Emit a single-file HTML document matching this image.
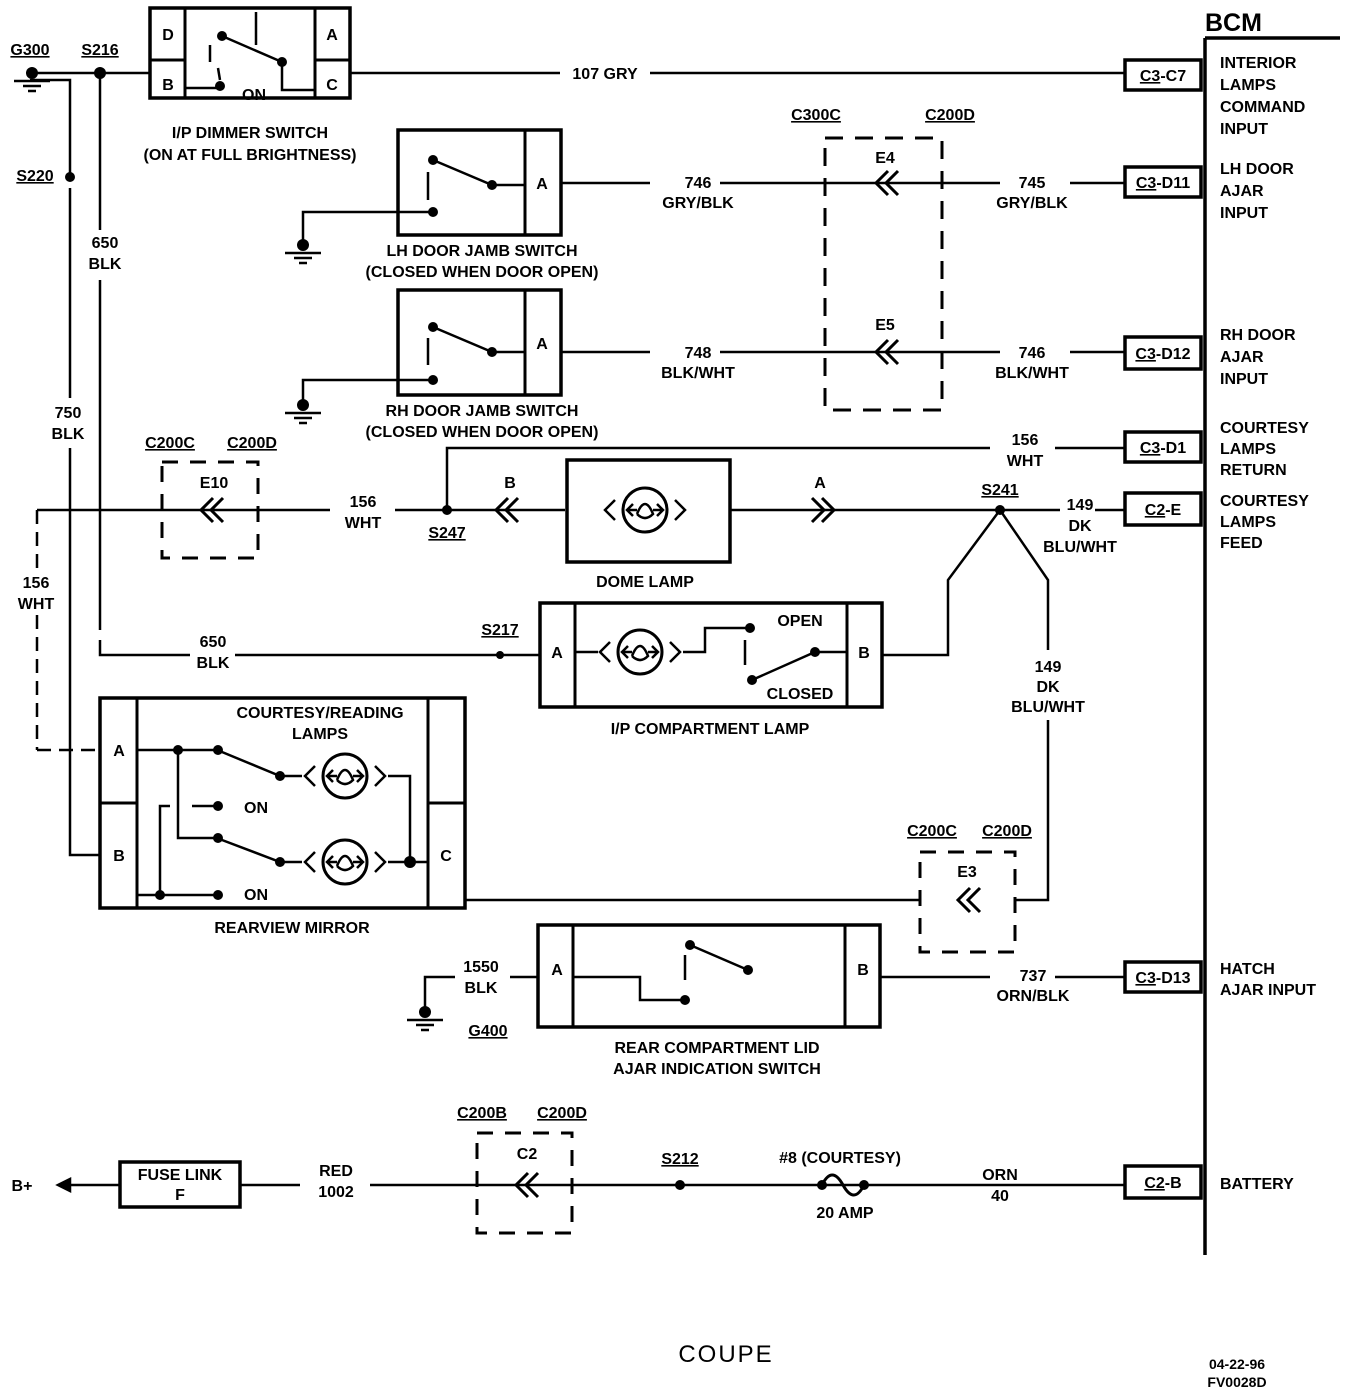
<!DOCTYPE html>
<html><head><meta charset="utf-8"><style>
html,body{margin:0;padding:0;background:#fff}
svg{display:block}
text{font-family:"Liberation Sans",sans-serif;font-weight:bold;font-size:16px;fill:#000}
.m{text-anchor:middle}
.u{text-decoration:underline}
</style></head><body>
<svg width="1360" height="1396" viewBox="0 0 1360 1396" xmlns="http://www.w3.org/2000/svg">
<defs>
<g id="lamp"><circle r="22" fill="none" stroke="#000" stroke-width="3"/>
<path d="M-30 -10 L-40 0 L-30 10 M30 -10 L40 0 L30 10 M-12 -6 L-18 0 L-12 6 M12 -6 L18 0 L12 6 M-18 0 H-8 M18 0 H8 M-8 4 Q0 -16 8 4 Q0 12 -8 4" fill="none" stroke="#000" stroke-width="2.5"/></g>
<g id="chl"><path d="M8 -12 L-4 0 L8 12 M18 -12 L6 0 L18 12" fill="none" stroke="#000" stroke-width="3"/></g>
<g id="chr"><path d="M-8 -12 L4 0 L-8 12 M-18 -12 L-6 0 L-18 12" fill="none" stroke="#000" stroke-width="3"/></g>
<g id="gnd"><circle r="6" fill="#000"/><path d="M-18 8 H18 M-9 13 H9 M-4 18 H4" stroke="#000" stroke-width="2.5"/></g>
</defs>
<g fill="none" stroke="#000" stroke-width="2.5">
<path d="M1205 38 H1340 M1205 38 V1255" stroke-width="3.5"/>
<rect x="1125" y="60" width="76" height="30" stroke-width="3.5"/>
<rect x="1125" y="167" width="76" height="30" stroke-width="3.5"/>
<rect x="1125" y="337" width="76" height="32" stroke-width="3.5"/>
<rect x="1125" y="432" width="76" height="30" stroke-width="3.5"/>
<rect x="1125" y="493" width="76" height="32" stroke-width="3.5"/>
<rect x="1125" y="962" width="76" height="30" stroke-width="3.5"/>
<rect x="1125" y="1166" width="76" height="32" stroke-width="3.5"/>
<path d="M30 73 H150 M350 73 H560 M650 73 H1125"/>
<path d="M30 80 H70 V180 M70 188 V398 M70 448 V855 H100"/>
<path d="M100 73 V230 M100 280 V630 M100 640 V655 H190 M235 655 H540"/>
<rect x="150" y="8" width="200" height="90" stroke-width="3.5"/>
<path d="M185 8 V98 M315 8 V98 M150 60 H185 M315 60 H350" stroke-width="3"/>
<path d="M222 36 L282 62 M282 62 V90 H315 M185 88 H218 M210 45 V62 M218 68 L220 80 M256 12 V45"/>
<rect x="398" y="130" width="163" height="105" stroke-width="3.5"/>
<path d="M525 130 V235" stroke-width="3"/>
<path d="M433 160 L492 185 H525 M428 172 V200 M433 212 H398 M398 212 H303 V240"/>
<path d="M561 183 H650 M720 183 H1000 M1070 183 H1125"/>
<rect x="398" y="290" width="163" height="105" stroke-width="3.5"/>
<path d="M525 290 V395" stroke-width="3"/>
<path d="M433 327 L492 352 H525 M428 338 V365 M433 380 H303 V400"/>
<path d="M561 352 H650 M720 352 H1000 M1070 352 H1125"/>
<rect x="825" y="138" width="117" height="272" stroke-dasharray="18 12" stroke-width="3"/>
<path d="M37 750 H100 M37 510 V570 M37 615 V750" stroke-dasharray="14 8"/>
<path d="M37 510 H330 M395 510 H565 M730 510 H1060 M1095 510 H1125"/>
<path d="M447 510 V448 H990 M1055 448 H1125"/>
<rect x="162" y="462" width="96" height="96" stroke-dasharray="16 12" stroke-width="3"/>
<rect x="567" y="460" width="163" height="102" stroke-width="3.5"/>
<path d="M1000 510 L948 580 V655 H882 M1000 510 L1048 580 V650 M1048 720 V900 H1015 M920 900 H465"/>
<rect x="920" y="852" width="95" height="100" stroke-dasharray="16 12" stroke-width="3"/>
<rect x="540" y="603" width="342" height="104" stroke-width="3.5"/>
<path d="M575 603 V707 M847 603 V707" stroke-width="3"/>
<path d="M575 652 H598 M683 652 H705 V628 H750 M745 640 V665 M752 680 L815 652 H847"/>
<rect x="100" y="698" width="365" height="210" stroke-width="3.5"/>
<path d="M137 698 V908 M428 698 V908 M100 803 H137 M428 803 H465" stroke-width="3"/>
<path d="M137 750 H218 M178 750 V838 H218 M222 752 L280 776 H302 M388 776 H410 V862 M222 840 L280 862 H302 M388 862 H428 M160 895 V806 H170 M192 806 H218 M137 895 H218"/>
<rect x="538" y="925" width="342" height="102" stroke-width="3.5"/>
<path d="M573 925 V1027 M845 925 V1027" stroke-width="3"/>
<path d="M573 977 H640 V1000 H685 M690 945 L748 970 M685 955 V980 M880 977 H990 M1055 977 H1125"/>
<path d="M538 977 H510 M455 977 H425 V1010"/>
<path d="M68 1185 H120 M240 1185 H300 M370 1185 H1125" />
<rect x="120" y="1162" width="120" height="45" stroke-width="3.5"/>
<rect x="477" y="1133" width="95" height="100" stroke-dasharray="16 12" stroke-width="3"/>
<path d="M822 1185 Q832 1165 843 1185 Q854 1205 864 1185" stroke-width="3"/>
<path d="M58 1185 L70 1179 V1191 Z" fill="#000"/>
</g>
<g fill="#000">
<circle cx="100" cy="73" r="6"/><circle cx="70" cy="177" r="5"/>
<circle cx="222" cy="36" r="5"/><circle cx="282" cy="62" r="5"/><circle cx="220" cy="86" r="5"/>
<circle cx="433" cy="160" r="5"/><circle cx="492" cy="185" r="5"/><circle cx="433" cy="212" r="5"/>
<circle cx="433" cy="327" r="5"/><circle cx="492" cy="352" r="5"/><circle cx="433" cy="380" r="5"/>
<circle cx="447" cy="510" r="5"/><circle cx="1000" cy="510" r="5"/><circle cx="500" cy="655" r="4"/>
<circle cx="750" cy="628" r="5"/><circle cx="815" cy="652" r="5"/><circle cx="752" cy="680" r="5"/>
<circle cx="178" cy="750" r="5"/><circle cx="218" cy="750" r="5"/><circle cx="280" cy="776" r="5"/>
<circle cx="218" cy="806" r="5"/><circle cx="218" cy="838" r="5"/><circle cx="280" cy="862" r="5"/>
<circle cx="410" cy="862" r="6"/><circle cx="160" cy="895" r="5"/><circle cx="218" cy="895" r="5"/>
<circle cx="690" cy="945" r="5"/><circle cx="748" cy="970" r="5"/><circle cx="685" cy="1000" r="5"/>
<circle cx="680" cy="1185" r="5"/><circle cx="822" cy="1185" r="5"/><circle cx="864" cy="1185" r="5"/>
</g>
<use href="#gnd" x="32" y="73"/><use href="#gnd" x="303" y="245"/><use href="#gnd" x="303" y="405"/><use href="#gnd" x="425" y="1012"/>
<use href="#lamp" x="645" y="510"/><use href="#lamp" x="640" y="652"/><use href="#lamp" x="345" y="776"/><use href="#lamp" x="345" y="862"/>
<use href="#chl" x="880" y="183"/><use href="#chl" x="880" y="352"/><use href="#chl" x="205" y="510"/><use href="#chl" x="500" y="510"/>
<use href="#chr" x="830" y="510"/><use href="#chl" x="962" y="900"/><use href="#chl" x="520" y="1185"/>
<text x="1205" y="31" style="font-size:25px">BCM</text>
<text x="1220" y="68">INTERIOR</text><text x="1220" y="90">LAMPS</text><text x="1220" y="112">COMMAND</text><text x="1220" y="134">INPUT</text>
<text x="1220" y="174">LH DOOR</text><text x="1220" y="196">AJAR</text><text x="1220" y="218">INPUT</text>
<text x="1220" y="340">RH DOOR</text><text x="1220" y="362">AJAR</text><text x="1220" y="384">INPUT</text>
<text x="1220" y="433">COURTESY</text><text x="1220" y="454">LAMPS</text><text x="1220" y="475">RETURN</text>
<text x="1220" y="506">COURTESY</text><text x="1220" y="527">LAMPS</text><text x="1220" y="548">FEED</text>
<text x="1220" y="974">HATCH</text><text x="1220" y="995">AJAR INPUT</text>
<text x="1220" y="1189">BATTERY</text>
<text x="1163" y="81" class="m"><tspan class="u">C3</tspan>-C7</text>
<text x="1163" y="188" class="m"><tspan class="u">C3</tspan>-D11</text>
<text x="1163" y="359" class="m"><tspan class="u">C3</tspan>-D12</text>
<text x="1163" y="453" class="m"><tspan class="u">C3</tspan>-D1</text>
<text x="1163" y="515" class="m"><tspan class="u">C2</tspan>-E</text>
<text x="1163" y="983" class="m"><tspan class="u">C3</tspan>-D13</text>
<text x="1163" y="1188" class="m"><tspan class="u">C2</tspan>-B</text>
<text x="30" y="55" class="m u">G300</text><text x="100" y="55" class="m u">S216</text><text x="35" y="181" class="m u">S220</text>
<text x="168" y="40" class="m">D</text><text x="168" y="90" class="m">B</text><text x="332" y="40" class="m">A</text><text x="332" y="90" class="m">C</text>
<text x="254" y="100" class="m">ON</text>
<text x="250" y="138" class="m">I/P DIMMER SWITCH</text><text x="250" y="160" class="m">(ON AT FULL BRIGHTNESS)</text>
<text x="605" y="79" class="m">107 GRY</text>
<text x="105" y="248" class="m">650</text><text x="105" y="269" class="m">BLK</text>
<text x="68" y="418" class="m">750</text><text x="68" y="439" class="m">BLK</text>
<text x="542" y="189" class="m">A</text><text x="542" y="349" class="m">A</text>
<text x="482" y="256" class="m">LH DOOR JAMB SWITCH</text><text x="482" y="277" class="m">(CLOSED WHEN DOOR OPEN)</text>
<text x="482" y="416" class="m">RH DOOR JAMB SWITCH</text><text x="482" y="437" class="m">(CLOSED WHEN DOOR OPEN)</text>
<text x="698" y="188" class="m">746</text><text x="698" y="208" class="m">GRY/BLK</text>
<text x="1032" y="188" class="m">745</text><text x="1032" y="208" class="m">GRY/BLK</text>
<text x="698" y="358" class="m">748</text><text x="698" y="378" class="m">BLK/WHT</text>
<text x="1032" y="358" class="m">746</text><text x="1032" y="378" class="m">BLK/WHT</text>
<text x="816" y="120" class="m u">C300C</text><text x="950" y="120" class="m u">C200D</text>
<text x="885" y="163" class="m">E4</text><text x="885" y="330" class="m">E5</text>
<text x="1025" y="445" class="m">156</text><text x="1025" y="466" class="m">WHT</text>
<text x="170" y="448" class="m u">C200C</text><text x="252" y="448" class="m u">C200D</text><text x="214" y="488" class="m">E10</text>
<text x="363" y="507" class="m">156</text><text x="363" y="528" class="m">WHT</text>
<text x="447" y="538" class="m u">S247</text><text x="510" y="488" class="m">B</text><text x="820" y="488" class="m">A</text>
<text x="1000" y="495" class="m u">S241</text>
<text x="1080" y="510" class="m">149</text><text x="1080" y="531" class="m">DK</text><text x="1080" y="552" class="m">BLU/WHT</text>
<text x="645" y="587" class="m">DOME LAMP</text>
<text x="36" y="588" class="m">156</text><text x="36" y="609" class="m">WHT</text>
<text x="213" y="647" class="m">650</text><text x="213" y="668" class="m">BLK</text>
<text x="500" y="635" class="m u">S217</text>
<text x="557" y="658" class="m">A</text><text x="864" y="658" class="m">B</text>
<text x="800" y="626" class="m">OPEN</text><text x="800" y="699" class="m">CLOSED</text>
<text x="710" y="734" class="m">I/P COMPARTMENT LAMP</text>
<text x="1048" y="672" class="m">149</text><text x="1048" y="692" class="m">DK</text><text x="1048" y="712" class="m">BLU/WHT</text>
<text x="320" y="718" class="m">COURTESY/READING</text><text x="320" y="739" class="m">LAMPS</text>
<text x="119" y="756" class="m">A</text><text x="119" y="861" class="m">B</text><text x="446" y="861" class="m">C</text>
<text x="256" y="813" class="m">ON</text><text x="256" y="900" class="m">ON</text>
<text x="292" y="933" class="m">REARVIEW MIRROR</text>
<text x="932" y="836" class="m u">C200C</text><text x="1007" y="836" class="m u">C200D</text><text x="967" y="877" class="m">E3</text>
<text x="557" y="975" class="m">A</text><text x="863" y="975" class="m">B</text>
<text x="481" y="972" class="m">1550</text><text x="481" y="993" class="m">BLK</text><text x="488" y="1036" class="m u">G400</text>
<text x="1033" y="981" class="m">737</text><text x="1033" y="1001" class="m">ORN/BLK</text>
<text x="717" y="1053" class="m">REAR COMPARTMENT LID</text><text x="717" y="1074" class="m">AJAR INDICATION SWITCH</text>
<text x="22" y="1191" class="m">B+</text>
<text x="180" y="1180" class="m">FUSE LINK</text><text x="180" y="1200" class="m">F</text>
<text x="336" y="1176" class="m">RED</text><text x="336" y="1197" class="m">1002</text>
<text x="482" y="1118" class="m u">C200B</text><text x="562" y="1118" class="m u">C200D</text><text x="527" y="1159" class="m">C2</text>
<text x="680" y="1164" class="m u">S212</text>
<text x="840" y="1163" class="m">#8 (COURTESY)</text><text x="845" y="1218" class="m">20 AMP</text>
<text x="1000" y="1180" class="m">ORN</text><text x="1000" y="1201" class="m">40</text>
<text x="726" y="1362" class="m" style="font-size:24px;font-weight:normal;letter-spacing:2px">COUPE</text>
<text x="1237" y="1369" class="m" style="font-size:14px">04-22-96</text><text x="1237" y="1387" class="m" style="font-size:14px">FV0028D</text>
</svg>
</body></html>
